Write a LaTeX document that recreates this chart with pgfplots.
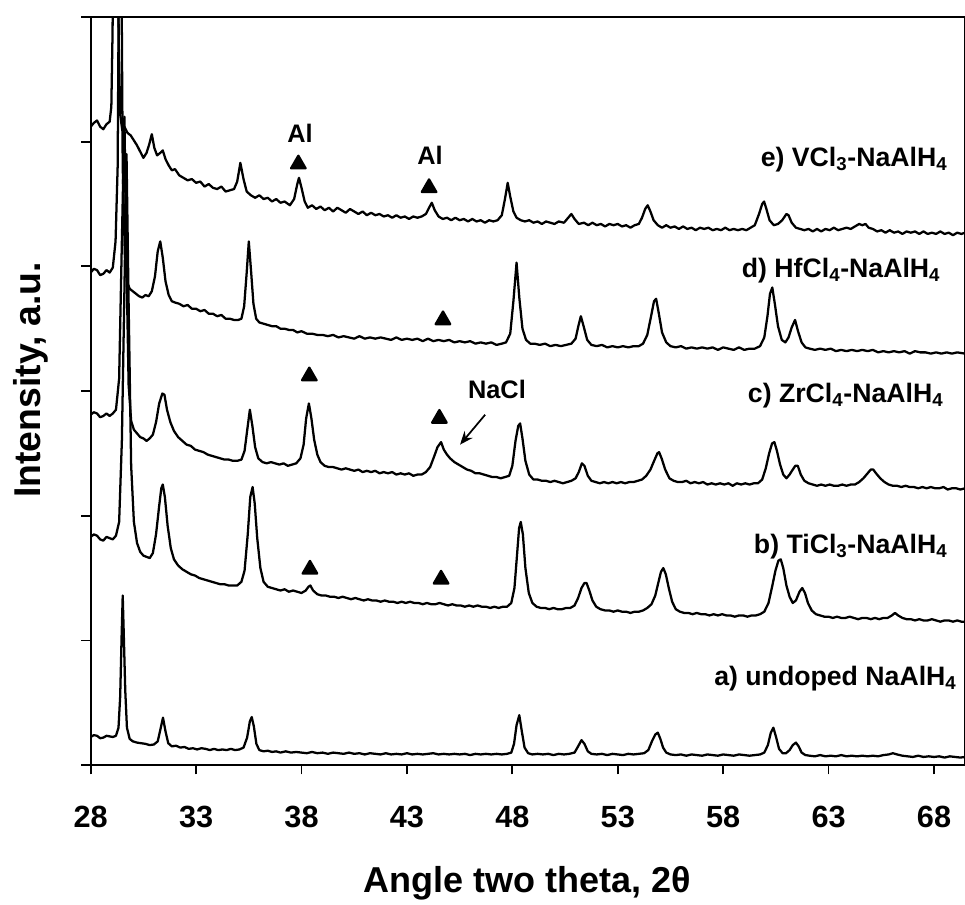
\documentclass[border=0pt]{standalone}
\usepackage{fontspec}
\setmainfont{Liberation Sans}
\usepackage{pgfplots}
\pgfplotsset{compat=1.18}
\usetikzlibrary{arrows.meta}

\newcommand{\sub}[1]{\textsubscript{#1}}
\newcommand{\curvefont}{\fontsize{20}{24}\selectfont\bfseries}
\newcommand{\notefont}{\fontsize{19}{22}\selectfont\bfseries}

\begin{document}
\begin{tikzpicture}
\begin{axis}[
    scale only axis,
    width=655.7pt, height=561pt,
    xmin=28, xmax=69.47, ymin=0, ymax=6,
    axis line style={line width=1.5pt},
    xtick pos=left, ytick pos=left,
    xtick={28,33,...,68}, ytick={0,1,...,6}, yticklabels={},
    tick align=outside, major tick length=7pt,
    tick style={line width=1.3pt, black},
    /pgf/number format/assume math mode=true,
    xticklabel style={font=\fontsize{23}{26}\selectfont\bfseries, anchor=base, yshift=-40pt},
    xlabel={Angle two theta, 2θ},
    ylabel={Intensity, a.u.},
    every axis x label/.style={at={(axis description cs:0.499,-0.171)}, anchor=base,
        font=\fontsize{27}{30}\selectfont\bfseries},
    every axis y label/.style={at={(axis description cs:-0.0689,0.515)}, rotate=90, anchor=center,
        font=\fontsize{28}{32}\selectfont\bfseries},
    every axis plot/.append style={line width=1.7pt, line join=round},
]
% e) VCl3-NaAlH4
\addplot[black] coordinates {
(28.00,5.12)(28.15,5.15)(28.30,5.17)(28.45,5.12)(28.60,5.10)(28.75,5.14)(28.90,5.16)(28.98,5.28)(29.04,5.90)(29.10,8.00)(29.26,8.00)(29.33,5.80)(29.40,5.22)(29.50,5.09)(29.60,5.12)(29.75,5.07)(29.90,5.05)(30.05,5.01)(30.20,4.97)(30.35,4.92)(30.50,4.87)(30.65,4.91)(30.78,4.98)(30.90,5.06)(31.02,4.95)(31.15,4.89)(31.30,4.91)(31.42,4.93)(31.55,4.86)(31.70,4.81)(31.85,4.77)(32.00,4.78)(32.20,4.73)(32.40,4.71)(32.60,4.69)(32.80,4.70)(33.00,4.67)(33.20,4.68)(33.40,4.64)(33.60,4.66)(33.80,4.63)(34.00,4.62)(34.20,4.64)(34.40,4.60)(34.60,4.61)(34.80,4.62)(34.95,4.68)(35.10,4.83)(35.25,4.70)(35.40,4.60)(35.60,4.57)(35.80,4.55)(36.00,4.57)(36.20,4.54)(36.40,4.55)(36.60,4.52)(36.80,4.54)(37.00,4.51)(37.20,4.52)(37.45,4.49)(37.65,4.54)(37.80,4.66)(37.88,4.71)(38.00,4.63)(38.15,4.52)(38.30,4.47)(38.50,4.49)(38.70,4.46)(38.90,4.48)(39.10,4.45)(39.30,4.47)(39.50,4.44)(39.70,4.47)(39.90,4.45)(40.10,4.43)(40.30,4.46)(40.50,4.44)(40.70,4.42)(40.90,4.44)(41.10,4.41)(41.30,4.43)(41.50,4.41)(41.70,4.42)(41.90,4.40)(42.10,4.41)(42.30,4.39)(42.50,4.41)(42.70,4.39)(42.90,4.40)(43.10,4.38)(43.30,4.40)(43.50,4.39)(43.70,4.40)(43.90,4.42)(44.05,4.47)(44.18,4.51)(44.32,4.45)(44.50,4.40)(44.70,4.38)(44.90,4.39)(45.10,4.37)(45.30,4.39)(45.50,4.37)(45.70,4.38)(45.90,4.36)(46.10,4.38)(46.30,4.36)(46.50,4.37)(46.70,4.35)(46.90,4.37)(47.10,4.36)(47.30,4.37)(47.50,4.41)(47.65,4.54)(47.78,4.67)(47.90,4.56)(48.05,4.44)(48.20,4.39)(48.40,4.37)(48.60,4.36)(48.80,4.37)(49.00,4.35)(49.20,4.36)(49.40,4.34)(49.60,4.36)(49.80,4.35)(50.00,4.34)(50.20,4.36)(50.45,4.35)(50.65,4.39)(50.80,4.42)(50.95,4.38)(51.15,4.34)(51.40,4.35)(51.60,4.33)(51.80,4.35)(52.00,4.33)(52.20,4.34)(52.40,4.32)(52.60,4.34)(52.80,4.33)(53.00,4.34)(53.20,4.32)(53.40,4.33)(53.60,4.31)(53.80,4.33)(54.00,4.34)(54.15,4.39)(54.30,4.46)(54.42,4.49)(54.55,4.44)(54.70,4.37)(54.90,4.33)(55.10,4.31)(55.30,4.33)(55.50,4.31)(55.70,4.32)(55.90,4.30)(56.10,4.32)(56.30,4.30)(56.50,4.31)(56.70,4.29)(56.90,4.31)(57.10,4.30)(57.30,4.31)(57.50,4.29)(57.70,4.30)(57.90,4.29)(58.10,4.31)(58.30,4.29)(58.50,4.30)(58.70,4.29)(58.90,4.30)(59.10,4.29)(59.30,4.31)(59.50,4.33)(59.70,4.42)(59.85,4.50)(59.94,4.52)(60.05,4.46)(60.20,4.37)(60.40,4.33)(60.60,4.34)(60.80,4.37)(61.00,4.42)(61.10,4.41)(61.25,4.35)(61.45,4.31)(61.65,4.30)(61.85,4.29)(62.05,4.30)(62.25,4.28)(62.45,4.30)(62.65,4.28)(62.85,4.30)(63.05,4.29)(63.25,4.31)(63.45,4.29)(63.65,4.30)(63.85,4.31)(64.05,4.30)(64.25,4.32)(64.45,4.34)(64.60,4.33)(64.75,4.34)(64.90,4.31)(65.10,4.30)(65.30,4.28)(65.50,4.29)(65.70,4.27)(65.90,4.29)(66.10,4.27)(66.30,4.28)(66.50,4.26)(66.70,4.28)(66.90,4.27)(67.10,4.28)(67.30,4.26)(67.50,4.28)(67.70,4.26)(67.90,4.27)(68.10,4.26)(68.30,4.28)(68.50,4.26)(68.70,4.27)(68.90,4.25)(69.10,4.27)(69.30,4.26)(69.47,4.27)
};
% d) HfCl4-NaAlH4
\addplot[black] coordinates {
(28.00,3.95)(28.15,3.98)(28.30,3.97)(28.45,3.93)(28.60,3.94)(28.75,3.97)(28.90,3.95)(29.05,3.99)(29.18,4.20)(29.28,4.80)(29.40,8.00)(29.52,4.80)(29.62,4.10)(29.72,3.88)(29.85,3.82)(30.00,3.80)(30.15,3.78)(30.30,3.76)(30.45,3.75)(30.60,3.77)(30.75,3.76)(30.90,3.80)(31.05,3.92)(31.18,4.12)(31.30,4.20)(31.42,4.07)(31.55,3.88)(31.70,3.77)(31.85,3.72)(32.00,3.71)(32.20,3.70)(32.40,3.68)(32.60,3.69)(32.80,3.66)(33.00,3.66)(33.20,3.64)(33.40,3.65)(33.60,3.62)(33.80,3.62)(34.00,3.60)(34.20,3.61)(34.40,3.58)(34.60,3.58)(34.80,3.57)(35.00,3.57)(35.15,3.58)(35.28,3.68)(35.40,3.95)(35.50,4.20)(35.60,3.98)(35.72,3.70)(35.85,3.58)(36.00,3.55)(36.20,3.54)(36.40,3.53)(36.60,3.52)(36.80,3.52)(37.00,3.50)(37.20,3.50)(37.40,3.49)(37.60,3.49)(37.80,3.47)(38.00,3.48)(38.25,3.46)(38.50,3.46)(38.75,3.45)(39.00,3.45)(39.25,3.44)(39.50,3.45)(39.75,3.43)(40.00,3.44)(40.25,3.43)(40.50,3.42)(40.75,3.44)(41.00,3.42)(41.25,3.43)(41.50,3.42)(41.75,3.43)(42.00,3.42)(42.25,3.41)(42.50,3.43)(42.75,3.41)(43.00,3.42)(43.25,3.41)(43.50,3.42)(43.75,3.40)(44.00,3.42)(44.25,3.40)(44.50,3.41)(44.75,3.40)(45.00,3.41)(45.25,3.39)(45.50,3.40)(45.75,3.39)(46.00,3.40)(46.25,3.38)(46.50,3.39)(46.75,3.38)(47.00,3.39)(47.25,3.37)(47.50,3.38)(47.70,3.39)(47.90,3.46)(48.05,3.72)(48.20,4.03)(48.33,3.75)(48.48,3.50)(48.65,3.41)(48.85,3.38)(49.05,3.38)(49.30,3.37)(49.55,3.38)(49.80,3.36)(50.05,3.37)(50.30,3.36)(50.55,3.37)(50.80,3.38)(51.00,3.42)(51.13,3.52)(51.25,3.60)(51.38,3.52)(51.55,3.41)(51.75,3.37)(52.00,3.36)(52.25,3.37)(52.50,3.35)(52.75,3.36)(53.00,3.35)(53.25,3.36)(53.50,3.35)(53.75,3.36)(54.00,3.36)(54.20,3.38)(54.40,3.45)(54.58,3.60)(54.72,3.72)(54.82,3.74)(54.95,3.62)(55.10,3.47)(55.30,3.39)(55.50,3.36)(55.75,3.35)(56.00,3.36)(56.25,3.34)(56.50,3.35)(56.75,3.34)(57.00,3.35)(57.25,3.34)(57.50,3.35)(57.75,3.33)(58.00,3.35)(58.25,3.34)(58.50,3.33)(58.75,3.35)(59.00,3.33)(59.25,3.34)(59.50,3.34)(59.75,3.36)(59.95,3.43)(60.10,3.60)(60.22,3.78)(60.33,3.83)(60.45,3.70)(60.60,3.52)(60.78,3.41)(60.95,3.39)(61.10,3.43)(61.25,3.51)(61.41,3.57)(61.55,3.48)(61.72,3.39)(61.90,3.35)(62.10,3.34)(62.35,3.33)(62.60,3.34)(62.85,3.33)(63.10,3.34)(63.35,3.32)(63.60,3.33)(63.85,3.32)(64.10,3.33)(64.35,3.32)(64.60,3.33)(64.85,3.32)(65.10,3.33)(65.35,3.31)(65.60,3.32)(65.85,3.31)(66.10,3.32)(66.35,3.31)(66.60,3.32)(66.85,3.30)(67.10,3.32)(67.35,3.31)(67.60,3.31)(67.85,3.30)(68.10,3.31)(68.35,3.30)(68.60,3.31)(68.85,3.30)(69.10,3.31)(69.47,3.30)
};
% c) ZrCl4-NaAlH4
\addplot[black] coordinates {
(28.00,2.81)(28.15,2.83)(28.30,2.82)(28.45,2.79)(28.60,2.80)(28.75,2.82)(28.90,2.80)(29.05,2.82)(29.20,2.85)(29.35,3.10)(29.48,4.20)(29.60,5.20)(29.70,4.00)(29.80,3.05)(29.92,2.76)(30.05,2.69)(30.20,2.66)(30.35,2.63)(30.50,2.62)(30.65,2.60)(30.80,2.62)(30.95,2.65)(31.10,2.75)(31.25,2.90)(31.40,2.98)(31.50,2.97)(31.62,2.85)(31.78,2.75)(31.95,2.68)(32.15,2.63)(32.35,2.60)(32.55,2.57)(32.75,2.56)(32.95,2.53)(33.15,2.52)(33.35,2.51)(33.55,2.49)(33.75,2.48)(33.95,2.47)(34.15,2.46)(34.35,2.45)(34.55,2.45)(34.75,2.44)(34.95,2.44)(35.15,2.45)(35.30,2.52)(35.42,2.68)(35.55,2.85)(35.67,2.72)(35.80,2.55)(35.95,2.46)(36.15,2.43)(36.35,2.42)(36.55,2.43)(36.75,2.42)(36.95,2.41)(37.15,2.42)(37.35,2.40)(37.55,2.41)(37.75,2.42)(37.95,2.46)(38.10,2.57)(38.22,2.78)(38.35,2.90)(38.47,2.78)(38.60,2.61)(38.75,2.49)(38.90,2.43)(39.10,2.40)(39.30,2.39)(39.50,2.39)(39.70,2.38)(39.90,2.37)(40.10,2.38)(40.30,2.37)(40.50,2.36)(40.70,2.37)(40.90,2.35)(41.10,2.36)(41.30,2.35)(41.50,2.36)(41.70,2.34)(41.90,2.35)(42.10,2.34)(42.30,2.35)(42.50,2.33)(42.70,2.34)(42.90,2.33)(43.10,2.34)(43.30,2.32)(43.50,2.33)(43.70,2.33)(43.90,2.35)(44.10,2.39)(44.28,2.47)(44.45,2.55)(44.62,2.59)(44.75,2.53)(44.90,2.49)(45.05,2.46)(45.25,2.43)(45.45,2.41)(45.65,2.39)(45.85,2.37)(46.05,2.36)(46.25,2.34)(46.45,2.34)(46.65,2.33)(46.85,2.32)(47.05,2.31)(47.25,2.31)(47.45,2.30)(47.65,2.31)(47.85,2.32)(48.00,2.40)(48.15,2.60)(48.28,2.72)(48.37,2.74)(48.48,2.62)(48.62,2.44)(48.80,2.33)(49.00,2.29)(49.20,2.29)(49.40,2.28)(49.60,2.28)(49.80,2.27)(50.00,2.28)(50.20,2.27)(50.40,2.26)(50.60,2.27)(50.80,2.28)(51.00,2.30)(51.15,2.35)(51.30,2.42)(51.42,2.40)(51.58,2.32)(51.75,2.28)(51.95,2.27)(52.15,2.26)(52.35,2.27)(52.55,2.26)(52.75,2.27)(52.95,2.26)(53.15,2.27)(53.35,2.26)(53.55,2.27)(53.75,2.27)(53.95,2.28)(54.15,2.29)(54.35,2.32)(54.55,2.37)(54.75,2.45)(54.88,2.50)(54.96,2.51)(55.08,2.46)(55.25,2.37)(55.45,2.30)(55.65,2.28)(55.85,2.27)(56.05,2.27)(56.25,2.28)(56.45,2.26)(56.65,2.27)(56.85,2.26)(57.05,2.27)(57.25,2.25)(57.45,2.26)(57.65,2.25)(57.85,2.26)(58.05,2.25)(58.25,2.26)(58.45,2.24)(58.65,2.26)(58.85,2.25)(59.05,2.26)(59.25,2.25)(59.45,2.26)(59.65,2.26)(59.85,2.29)(60.02,2.38)(60.18,2.50)(60.32,2.58)(60.43,2.59)(60.55,2.52)(60.70,2.41)(60.85,2.33)(61.00,2.30)(61.15,2.33)(61.30,2.37)(61.42,2.40)(61.54,2.40)(61.68,2.33)(61.85,2.28)(62.05,2.26)(62.25,2.25)(62.45,2.24)(62.65,2.25)(62.85,2.24)(63.05,2.25)(63.25,2.24)(63.45,2.24)(63.65,2.25)(63.85,2.24)(64.05,2.25)(64.25,2.25)(64.45,2.27)(64.65,2.30)(64.85,2.34)(65.00,2.37)(65.12,2.37)(65.25,2.34)(65.45,2.30)(65.65,2.27)(65.85,2.25)(66.05,2.24)(66.25,2.24)(66.45,2.23)(66.65,2.24)(66.85,2.23)(67.05,2.23)(67.25,2.22)(67.45,2.23)(67.65,2.22)(67.85,2.23)(68.05,2.22)(68.25,2.22)(68.45,2.23)(68.65,2.21)(68.85,2.22)(69.05,2.22)(69.25,2.21)(69.47,2.22)
};
% b) TiCl3-NaAlH4
\addplot[black] coordinates {
(28.00,1.83)(28.15,1.85)(28.30,1.84)(28.45,1.81)(28.60,1.80)(28.75,1.83)(28.90,1.82)(29.05,1.81)(29.20,1.84)(29.35,1.95)(29.48,2.60)(29.60,3.80)(29.70,4.90)(29.80,3.70)(29.92,2.40)(30.05,1.95)(30.20,1.78)(30.35,1.71)(30.50,1.68)(30.65,1.67)(30.80,1.66)(30.95,1.70)(31.10,1.85)(31.25,2.08)(31.35,2.22)(31.42,2.25)(31.52,2.15)(31.65,1.92)(31.80,1.74)(31.95,1.65)(32.15,1.60)(32.35,1.57)(32.55,1.55)(32.75,1.53)(32.95,1.52)(33.15,1.50)(33.35,1.49)(33.55,1.48)(33.75,1.47)(33.95,1.46)(34.15,1.45)(34.35,1.45)(34.55,1.44)(34.75,1.44)(34.95,1.44)(35.15,1.47)(35.30,1.56)(35.45,1.85)(35.57,2.15)(35.68,2.23)(35.78,2.10)(35.90,1.82)(36.05,1.58)(36.20,1.47)(36.40,1.43)(36.60,1.42)(36.80,1.41)(37.00,1.40)(37.20,1.41)(37.40,1.39)(37.60,1.40)(37.80,1.39)(38.00,1.38)(38.20,1.40)(38.33,1.43)(38.42,1.44)(38.55,1.40)(38.75,1.37)(38.95,1.36)(39.15,1.36)(39.35,1.35)(39.55,1.35)(39.75,1.34)(39.95,1.35)(40.15,1.34)(40.35,1.33)(40.55,1.34)(40.75,1.33)(40.95,1.32)(41.15,1.33)(41.35,1.32)(41.55,1.32)(41.75,1.31)(41.95,1.32)(42.15,1.31)(42.35,1.31)(42.55,1.30)(42.75,1.31)(42.95,1.30)(43.15,1.31)(43.35,1.30)(43.55,1.30)(43.75,1.29)(43.95,1.30)(44.15,1.29)(44.35,1.29)(44.55,1.30)(44.75,1.29)(44.95,1.28)(45.15,1.29)(45.35,1.28)(45.55,1.28)(45.75,1.27)(45.95,1.28)(46.15,1.27)(46.35,1.28)(46.55,1.27)(46.75,1.27)(46.95,1.26)(47.15,1.27)(47.35,1.26)(47.55,1.27)(47.75,1.27)(47.95,1.30)(48.10,1.42)(48.22,1.68)(48.32,1.90)(48.40,1.95)(48.50,1.85)(48.62,1.58)(48.78,1.38)(48.95,1.30)(49.15,1.27)(49.35,1.26)(49.55,1.26)(49.75,1.25)(49.95,1.26)(50.15,1.25)(50.35,1.25)(50.55,1.26)(50.75,1.26)(50.95,1.28)(51.12,1.34)(51.28,1.42)(51.42,1.46)(51.52,1.46)(51.65,1.40)(51.80,1.32)(51.98,1.27)(52.18,1.25)(52.40,1.24)(52.60,1.24)(52.80,1.23)(53.00,1.24)(53.20,1.23)(53.40,1.23)(53.60,1.22)(53.80,1.23)(54.00,1.23)(54.20,1.24)(54.40,1.26)(54.60,1.29)(54.78,1.36)(54.92,1.46)(55.05,1.55)(55.16,1.58)(55.28,1.53)(55.42,1.42)(55.58,1.31)(55.75,1.25)(55.95,1.23)(56.15,1.22)(56.35,1.22)(56.55,1.21)(56.75,1.22)(56.95,1.21)(57.15,1.21)(57.35,1.20)(57.55,1.21)(57.75,1.20)(57.95,1.21)(58.15,1.20)(58.35,1.20)(58.55,1.19)(58.75,1.20)(58.95,1.20)(59.15,1.19)(59.35,1.20)(59.55,1.20)(59.75,1.21)(59.95,1.23)(60.15,1.30)(60.32,1.43)(60.48,1.56)(60.62,1.64)(60.73,1.65)(60.85,1.58)(61.00,1.44)(61.15,1.35)(61.30,1.30)(61.45,1.32)(61.62,1.39)(61.75,1.42)(61.88,1.38)(62.02,1.30)(62.20,1.24)(62.40,1.21)(62.60,1.20)(62.80,1.19)(63.00,1.19)(63.20,1.18)(63.40,1.19)(63.60,1.18)(63.80,1.18)(64.00,1.19)(64.20,1.18)(64.40,1.17)(64.60,1.18)(64.80,1.18)(65.00,1.17)(65.20,1.18)(65.40,1.17)(65.60,1.18)(65.80,1.18)(66.00,1.20)(66.15,1.22)(66.30,1.20)(66.50,1.18)(66.70,1.17)(66.90,1.17)(67.10,1.16)(67.30,1.17)(67.50,1.16)(67.70,1.16)(67.90,1.17)(68.10,1.16)(68.30,1.15)(68.50,1.16)(68.70,1.16)(68.90,1.15)(69.10,1.16)(69.30,1.15)(69.47,1.15)
};
% a) undoped NaAlH4
\addplot[black] coordinates {
(28.00,0.225)(28.15,0.24)(28.30,0.235)(28.45,0.215)(28.60,0.22)(28.75,0.235)(28.90,0.23)(29.05,0.225)(29.20,0.235)(29.32,0.30)(29.40,0.55)(29.47,1.05)(29.52,1.36)(29.57,1.05)(29.64,0.60)(29.72,0.30)(29.85,0.21)(30.00,0.19)(30.20,0.18)(30.40,0.175)(30.60,0.17)(30.80,0.16)(31.00,0.165)(31.18,0.19)(31.30,0.28)(31.43,0.38)(31.55,0.27)(31.68,0.175)(31.85,0.15)(32.05,0.155)(32.25,0.14)(32.45,0.145)(32.65,0.13)(32.85,0.135)(33.05,0.125)(33.25,0.135)(33.45,0.13)(33.65,0.12)(33.85,0.13)(34.05,0.12)(34.25,0.125)(34.45,0.12)(34.65,0.13)(34.85,0.12)(35.05,0.125)(35.25,0.14)(35.42,0.22)(35.55,0.35)(35.64,0.385)(35.74,0.31)(35.86,0.17)(36.00,0.12)(36.20,0.11)(36.40,0.115)(36.60,0.105)(36.80,0.11)(37.00,0.10)(37.25,0.11)(37.50,0.10)(37.75,0.105)(38.00,0.10)(38.25,0.095)(38.50,0.105)(38.75,0.095)(39.00,0.10)(39.25,0.09)(39.50,0.10)(39.75,0.095)(40.00,0.09)(40.25,0.10)(40.50,0.09)(40.75,0.095)(41.00,0.085)(41.25,0.095)(41.50,0.09)(41.75,0.085)(42.00,0.095)(42.25,0.085)(42.50,0.09)(42.75,0.085)(43.00,0.095)(43.25,0.085)(43.50,0.09)(43.75,0.085)(44.00,0.09)(44.25,0.095)(44.50,0.085)(44.75,0.09)(45.00,0.085)(45.25,0.09)(45.50,0.085)(45.75,0.09)(46.00,0.08)(46.25,0.09)(46.50,0.085)(46.75,0.09)(47.00,0.085)(47.25,0.09)(47.50,0.085)(47.75,0.09)(47.95,0.10)(48.08,0.17)(48.20,0.32)(48.33,0.40)(48.45,0.27)(48.58,0.14)(48.75,0.095)(48.95,0.085)(49.20,0.09)(49.45,0.085)(49.70,0.09)(49.95,0.08)(50.20,0.09)(50.45,0.085)(50.70,0.09)(50.95,0.10)(51.12,0.15)(51.28,0.20)(51.42,0.17)(51.58,0.11)(51.75,0.09)(52.00,0.085)(52.25,0.09)(52.50,0.08)(52.75,0.09)(53.00,0.085)(53.25,0.08)(53.50,0.09)(53.75,0.085)(54.00,0.09)(54.25,0.095)(54.45,0.12)(54.62,0.19)(54.78,0.245)(54.90,0.26)(55.02,0.21)(55.15,0.14)(55.30,0.10)(55.50,0.085)(55.75,0.08)(56.00,0.085)(56.25,0.075)(56.50,0.085)(56.75,0.08)(57.00,0.075)(57.25,0.085)(57.50,0.08)(57.75,0.075)(58.00,0.085)(58.25,0.08)(58.50,0.075)(58.75,0.085)(59.00,0.08)(59.25,0.075)(59.50,0.08)(59.75,0.085)(59.95,0.10)(60.12,0.16)(60.26,0.26)(60.38,0.30)(60.50,0.23)(60.65,0.13)(60.82,0.095)(60.98,0.095)(61.15,0.12)(61.30,0.16)(61.45,0.18)(61.58,0.15)(61.72,0.10)(61.90,0.08)(62.10,0.075)(62.35,0.07)(62.60,0.08)(62.85,0.07)(63.10,0.075)(63.35,0.07)(63.60,0.08)(63.85,0.07)(64.10,0.075)(64.35,0.07)(64.60,0.075)(64.85,0.07)(65.10,0.075)(65.35,0.07)(65.60,0.08)(65.85,0.085)(66.05,0.095)(66.25,0.085)(66.50,0.075)(66.75,0.07)(67.00,0.065)(67.25,0.075)(67.50,0.065)(67.75,0.07)(68.00,0.065)(68.25,0.07)(68.50,0.06)(68.75,0.07)(69.00,0.065)(69.25,0.06)(69.47,0.065)
};
% phase markers (Al / NaCl)
\addplot[only marks, mark=triangle*, mark size=6.3pt, black] coordinates {
(37.85,4.82)(44.05,4.63)(44.71,3.57)(38.37,3.12)(44.54,2.78)(38.40,1.57)(44.62,1.49)
};
\node[font=\notefont] at (axis cs:37.93,5.07) {Al};
\node[font=\notefont] at (axis cs:44.10,4.89) {Al};
\node[font=\notefont] at (axis cs:47.27,3.01) {NaCl};
\draw[line width=1.3pt, -{Stealth[length=10pt, width=8pt]}] (axis cs:46.71,2.81) -- (axis cs:45.52,2.57);
% curve labels
\node[anchor=base east, font=\curvefont] at (axis cs:68.86,4.80) {e) VCl\sub{3}-NaAlH\sub{4}};
\node[anchor=base east, font=\curvefont] at (axis cs:68.52,3.91) {d) HfCl\sub{4}-NaAlH\sub{4}};
\node[anchor=base east, font=\curvefont] at (axis cs:68.67,2.91) {c) ZrCl\sub{4}-NaAlH\sub{4}};
\node[anchor=base east, font=\curvefont] at (axis cs:68.86,1.70) {b) TiCl\sub{3}-NaAlH\sub{4}};
\node[anchor=base east, font=\curvefont] at (axis cs:69.29,0.64) {a) undoped NaAlH\sub{4}};
\end{axis}
% top frame line of the plot area, drawn again on top
\fill[black] (0pt,560.2pt) rectangle (655.7pt,561.8pt);
\pgfresetboundingbox
\path[use as bounding box] (-68pt,-104.25pt) rectangle (655.7pt,573.75pt);
\end{tikzpicture}
\end{document}
